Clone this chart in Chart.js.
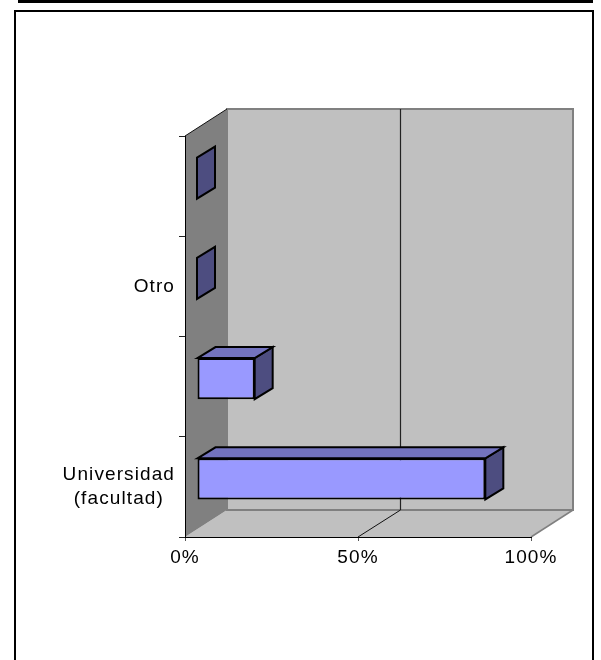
<!DOCTYPE html>
<html>
<head>
<meta charset="utf-8">
<style>html,body{margin:0;padding:0;background:#fff}canvas{display:block}</style>
<script src="https://cdn.jsdelivr.net/npm/chart.js@4"></script>
</head>
<body>
<canvas id="c" width="601" height="660" style="width:601px;height:660px"></canvas>
<script>
const categories = ['', 'Otro', '', ['Universidad', '(facultad)']];
const values = [0, 0, 16.67, 83.33];
const xTicks = [0, 50, 100];

const WALL = {dx: 42, dy: -27};
const BAR_OFFSET = {dx: 12, dy: -8};
const BAR_DEPTH = {dx: 18, dy: -11};
const FRONT = '#9999FF', TOP = '#7373BF', SIDE = '#4D4D80';
const SPACING = '1.1px';

function poly(ctx, pts, fill, stroke, lw) {
  ctx.beginPath();
  pts.forEach((p, i) => i ? ctx.lineTo(p[0], p[1]) : ctx.moveTo(p[0], p[1]));
  ctx.closePath();
  if (fill) { ctx.fillStyle = fill; ctx.fill(); }
  if (stroke) { ctx.strokeStyle = stroke; ctx.lineWidth = lw; ctx.lineJoin = 'miter'; ctx.stroke(); }
}
function line(ctx, x1, y1, x2, y2, color, lw) {
  ctx.beginPath(); ctx.moveTo(x1, y1); ctx.lineTo(x2, y2);
  ctx.strokeStyle = color; ctx.lineWidth = lw; ctx.stroke();
}

const walls3d = {
  id: 'walls3d',
  beforeUpdate(chart) { chart.ctx.letterSpacing = SPACING; },
  beforeDraw(chart) {
    const ctx = chart.ctx, a = chart.chartArea, x = chart.scales.x, y = chart.scales.y;
    const L = a.left, R = a.right, T = a.top, B = a.bottom, dx = WALL.dx, dy = WALL.dy;
    // single-line labels sit right-aligned against the axis; the two-line one stays centred
    y.getLabelItems(a).forEach(item => {
      if (!Array.isArray(item.label)) {
        item.options.textAlign = 'right';
        item.options.translation[0] = y.right - 10;
      }
    });
    ctx.save();
    // page frame
    ctx.fillStyle = '#000';
    ctx.fillRect(18, 0, 575, 3);
    ctx.fillRect(14, 10, 580, 2);
    ctx.fillRect(14, 10, 2, 650);
    ctx.fillRect(592, 10, 2, 650);
    // floor
    poly(ctx, [[L, B], [L + dx, B + dy], [R + dx, B + dy], [R, B]], '#C0C0C0');
    line(ctx, R, B, R + dx, B + dy, '#808080', 1.5);
    // back wall
    poly(ctx, [[L + dx, T + dy], [R + dx, T + dy], [R + dx, B + dy], [L + dx, B + dy]], '#C0C0C0', '#808080', 2);
    // side wall
    poly(ctx, [[L, T], [L + dx, T + dy], [L + dx, B + dy], [L, B]], '#808080');
    line(ctx, L, T, L + dx, T + dy, '#111', 1);
    // gridlines
    xTicks.slice(1, -1).forEach(v => {
      const px = Math.round(x.getPixelForValue(v));
      line(ctx, px + dx + 0.5, T + dy, px + dx + 0.5, B + dy, '#222', 1.2);
      line(ctx, px, B, px + dx + 0.5, B + dy, '#111', 1);
    });
    ctx.restore();
  },
  beforeDatasetDraw(chart, args) {
    const ctx = chart.ctx, els = chart.getDatasetMeta(args.index).data;
    const dx = BAR_DEPTH.dx, dy = BAR_DEPTH.dy;
    ctx.save();
    els.forEach(el => {
      const l = el.base + BAR_OFFSET.dx, r = el.x + BAR_OFFSET.dx;
      const t = el.y - el.height / 2 + BAR_OFFSET.dy, b = el.y + el.height / 2 + BAR_OFFSET.dy;
      poly(ctx, [[r, t], [r + dx, t + dy], [r + dx, b + dy], [r, b]], SIDE, '#000', 2);
      if (r - l > 0.5) poly(ctx, [[l, t], [l + dx, t + dy], [r + dx, t + dy], [r, t]], TOP, '#000', 2);
    });
    ctx.restore();
    ctx.save();
    ctx.translate(BAR_OFFSET.dx, BAR_OFFSET.dy);
  },
  afterDatasetDraw(chart) {
    chart.ctx.restore();
  }
};

const FONT = {family: '"Liberation Sans", Arial, sans-serif', size: 19, lineHeight: 1.3};

new Chart(document.getElementById('c'), {
  type: 'bar',
  data: {
    labels: categories,
    datasets: [{
      data: values,
      backgroundColor: FRONT,
      borderColor: '#000',
      borderWidth: 2,
      borderSkipped: false,
      categoryPercentage: 1,
      barPercentage: 0.41,
      clip: false
    }]
  },
  options: {
    indexAxis: 'y',
    responsive: false,
    animation: false,
    layout: {padding: {top: 136, right: 70, left: 0, bottom: 0}},
    plugins: {legend: {display: false}, title: {display: false}, tooltip: {enabled: false}},
    scales: {
      x: {
        type: 'linear', min: 0, max: 100,
        afterFit(s) { s.height = 123; },
        afterBuildTicks(s) { s.ticks = xTicks.map(v => ({value: v})); },
        grid: {drawOnChartArea: false, drawTicks: true, tickLength: 4, color: '#555'},
        border: {display: true, color: '#000', width: 1},
        ticks: {color: '#000', font: FONT, padding: 4, maxRotation: 0, autoSkip: false,
                callback: v => v + '%'}
      },
      y: {
        type: 'category',
        afterFit(s) { s.width = 185; },
        grid: {drawOnChartArea: false, drawTicks: true, tickLength: 6, color: '#222'},
        border: {display: true, color: '#000', width: 1},
        ticks: {color: '#000', font: FONT, padding: 4, autoSkip: false, crossAlign: 'center'}
      }
    }
  },
  plugins: [walls3d]
});
</script>
</body>
</html>
